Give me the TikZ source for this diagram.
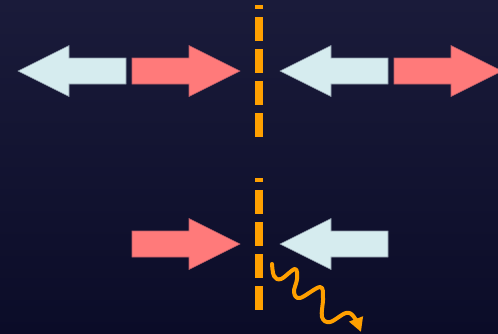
\documentclass[tikz,border=0pt]{standalone}
\usetikzlibrary{arrows.meta}
\definecolor{bgtop}{HTML}{1A1B3A}
\definecolor{bgbot}{HTML}{0B0C28}
\definecolor{outgoing}{HTML}{D6ECEF}
\definecolor{incoming}{HTML}{FF7A7A}
\definecolor{wall}{HTML}{FFA000}
\tikzset{
  cyanarrow/.style={fill=outgoing,draw=outgoing!60!bgtop,line width=0.6pt},
  redarrow/.style={fill=incoming,draw=incoming!70!bgtop,line width=0.6pt},
  wallline/.style={wall,line width=8pt,dash pattern=on 24pt off 8pt,dash phase=20pt}
}

\begin{document}
\begin{tikzpicture}[x=1pt,y=-1pt]
  \useasboundingbox (0,0) rectangle (498,333);
  \clip (0,0) rectangle (498,333);
  \shade[top color=bgtop,bottom color=bgbot] (0,0) rectangle (498,333);
  % top row
  \draw[cyanarrow] (18,71) -- ++(51,-25.5) -- ++(0,12.5) -- ++(57,0) -- ++(0,26) -- ++(-57,0) -- ++(0,12.5) -- cycle;
  \draw[redarrow] (240,71) -- ++(-51,-25.5) -- ++(0,12.5) -- ++(-57,0) -- ++(0,26) -- ++(57,0) -- ++(0,12.5) -- cycle;
  \draw[cyanarrow] (280,71) -- ++(51,-25.5) -- ++(0,12.5) -- ++(57,0) -- ++(0,26) -- ++(-57,0) -- ++(0,12.5) -- cycle;
  \draw[redarrow] (502,71) -- ++(-51,-25.5) -- ++(0,12.5) -- ++(-57,0) -- ++(0,26) -- ++(57,0) -- ++(0,12.5) -- cycle;
  % bottom row
  \draw[redarrow] (240,244) -- ++(-51,-25.5) -- ++(0,12.5) -- ++(-57,0) -- ++(0,26) -- ++(57,0) -- ++(0,12.5) -- cycle;
  \draw[cyanarrow] (280,244) -- ++(51,-25.5) -- ++(0,12.5) -- ++(57,0) -- ++(0,26) -- ++(-57,0) -- ++(0,12.5) -- cycle;
  % the wall
  \draw[wallline] (259,5) -- (259,137);
  \draw[wallline] (259,178) -- (259,311);
  % emitted wave
  \draw[wall,line width=4pt,line cap=round,line join=round,-{Triangle[length=14pt,width=14pt]}]
    plot[smooth,tension=0.6] coordinates {(272,264) (274,276) (281,279) (295,269) (297,279) (294,292) (300,298)
      (320,287) (323,298) (322,317) (330,322) (346,313) (354,317) (361,332)};
\end{tikzpicture}
\end{document}
